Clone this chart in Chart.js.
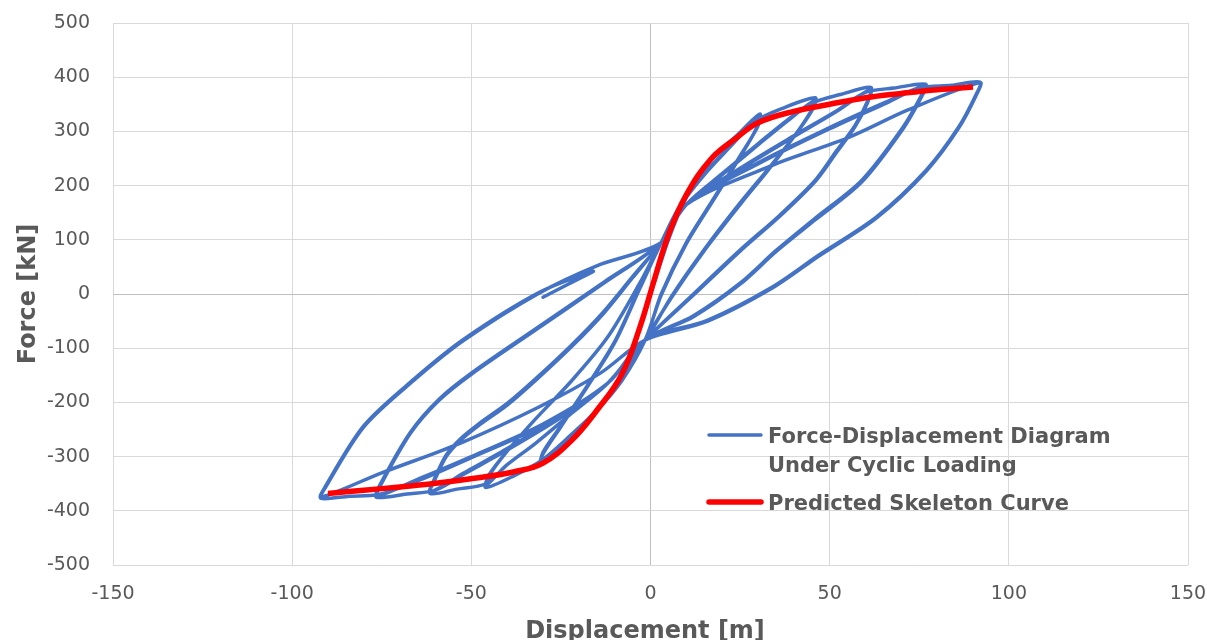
<!DOCTYPE html>
<html>
<head>
<meta charset="utf-8">
<script src="https://cdn.jsdelivr.net/npm/chart.js@4.4.1/dist/chart.umd.min.js"></script>
<style>
  html, body { margin: 0; padding: 0; background: #fff; }
  #wrap { width: 1207px; height: 640px; }
</style>
</head>
<body>
<div id="wrap"><canvas id="chart" width="1207" height="640"></canvas></div>
<script>
// Axis ticks
const xTicks = [-150, -100, -50, 0, 50, 100, 150];
const yTicks = [-500, -400, -300, -200, -100, 0, 100, 200, 300, 400, 500];

// Measured hysteresis path, in loading order (one row per branch)
const cyclicDisp = [
  0, 5, 10, 17, 24, 30.5,
  30, 25, 18, 10, 3, -1.5,
  -8, -15, -22, -30.8,
  -30, -25, -18, -10, -3, 3,
  8, 15, 22, 30,
  29.5, 25, 18, 10, 3, -1.5,
  -8, -15, -23, -30.5,
  -30, -25, -18, -10, -3, 3,
  8, 15, 22, 29, 37, 46,
  45, 40, 33, 25, 15, 6, -1.5,
  -8, -15, -23, -30, -38, -46,
  -45, -40, -32, -22, -12, -3, 3,
  10, 20, 30, 38, 46,
  45, 40, 33, 25, 15, 6, -1.5,
  -12, -22, -32, -40, -46,
  -45, -40, -32, -22, -12, -3, 3,
  10, 20, 30, 38, 45, 53, 61.5,
  60.5, 57, 52, 46, 36, 25, 12, -1.5,
  -12, -22, -32, -40, -46, -54, -61.5,
  -60, -57, -53, -48, -40, -32, -22, -13, -5, 3,
  10, 25, 40, 52, 61.5,
  60.5, 57, 52, 46, 36, 25, 12, -1.5,
  -12, -25, -40, -52, -61.5,
  -60, -57, -53, -48, -40, -32, -22, -13, -5, 3,
  10, 25, 40, 52, 60, 68, 76.8,
  75.5, 70.5, 59, 46, 35, 25, 12, -1.5,
  -12, -25, -40, -52, -60, -68, -76.5,
  -75.5, -67, -59, -50, -32, -13, 3,
  10, 30, 50, 65, 76.8,
  75.5, 70.5, 59, 46, 35, 25, 12, -1.5,
  -12, -30, -50, -65, -76.5,
  -75.5, -67, -59, -50, -32, -13, 3,
  10, 30, 50, 65, 75, 84, 92,
  91, 86, 77, 63, 47, 34, 16, -1.5,
  -12, -30, -50, -65, -76, -84, -92,
  -91, -80, -66, -52, -31, -15, 3,
  10, 35, 55, 72, 92,
  91, 86, 77, 63, 47, 34, 16, -1.5,
  -14, -31, -53, -75, -92,
  -91, -80, -66, -52, -31, -16,
  -23, -30
];
const cyclicForce = [
  0, 100, 178, 248, 292, 332,
  310, 255, 180, 95, 0, -85,
  -150, -215, -268, -315,
  -295, -245, -175, -90, 10, 95,
  160, 220, 270, 325,
  305, 253, 178, 93, -2, -85,
  -160, -215, -265, -310,
  -292, -243, -173, -88, 12, 95,
  160, 222, 272, 318, 343, 362,
  340, 290, 230, 165, 80, -5, -85,
  -160, -215, -265, -305, -335, -357,
  -335, -290, -230, -160, -80, 20, 95,
  165, 220, 275, 318, 358,
  338, 290, 232, 168, 82, -3, -85,
  -165, -220, -275, -315, -354,
  -333, -290, -230, -160, -80, 20, 95,
  165, 222, 277, 320, 352, 368, 381,
  355, 310, 265, 210, 145, 81, 0, -85,
  -165, -220, -275, -315, -350, -360, -368,
  -340, -300, -270, -243, -205, -159, -97, -35, 30, 95,
  165, 230, 290, 337, 378,
  352, 308, 262, 208, 143, 79, -2, -85,
  -165, -225, -285, -330, -365,
  -337, -297, -267, -240, -202, -156, -94, -32, 32, 95,
  165, 232, 292, 338, 372, 380, 387,
  365, 308, 210, 140, 80, 20, -40, -85,
  -165, -228, -288, -332, -362, -369, -375,
  -355, -257, -196, -148, -66, 20, 95,
  165, 240, 305, 350, 385,
  362, 305, 207, 137, 78, 18, -42, -85,
  -165, -240, -300, -342, -373,
  -352, -255, -194, -146, -64, 22, 95,
  165, 242, 307, 352, 380, 385, 391,
  370, 308, 229, 142, 72, 13, -48, -85,
  -165, -242, -302, -345, -370, -373, -377,
  -360, -245, -159, -85, 2, 52, 95,
  165, 240, 288, 340, 390,
  368, 306, 227, 140, 70, 11, -50, -85,
  -146, -208, -275, -330, -375,
  -358, -243, -157, -83, 3, 42,
  18, -6
];

// Predicted backbone
const skeletonDisp = [-90, -80, -70, -60, -48, -38, -30, -22, -15, -8, -3, 1, 5, 10, 17, 24, 30, 40, 50, 60, 70, 80, 90];
const skeletonForce = [-368, -362, -356, -349, -339, -328, -312, -270, -215, -148, -62, 25, 109, 183, 250, 288, 316, 337, 350, 362, 370, 377, 382];

const seriesNames = ['Force-Displacement Diagram', 'Predicted Skeleton Curve'];
const blue = '#4472C4';
const red = '#FF0000';
const textColor = '#595959';

const toPoints = (xs, ys) => xs.map((x, i) => ({ x: x, y: ys[i] }));

// axis titles and the in-plot legend
const chartText = {
  id: 'chartText',
  afterDraw(chart) {
    const ctx = chart.ctx;
    ctx.save();
    ctx.fillStyle = textColor;
    ctx.font = 'bold 24px "DejaVu Sans"';
    ctx.textAlign = 'center';
    ctx.textBaseline = 'alphabetic';
    ctx.fillText('Displacement [m]', 645, 638);
    ctx.save();
    ctx.translate(35, 294);
    ctx.rotate(-Math.PI / 2);
    ctx.fillText('Force [kN]', 0, 0);
    ctx.restore();

    ctx.lineCap = 'round';
    ctx.strokeStyle = blue;
    ctx.lineWidth = 3.5;
    ctx.beginPath(); ctx.moveTo(709, 435); ctx.lineTo(761, 435); ctx.stroke();
    ctx.strokeStyle = red;
    ctx.lineWidth = 5.5;
    ctx.beginPath(); ctx.moveTo(709, 502); ctx.lineTo(761, 502); ctx.stroke();

    ctx.font = 'bold 21px "DejaVu Sans"';
    ctx.textAlign = 'left';
    ctx.fillText(seriesNames[0], 768, 443);
    ctx.fillText('Under Cyclic Loading', 768, 472);
    ctx.fillText(seriesNames[1], 768, 510);
    ctx.restore();
  }
};

const gridColor = c => (c.tick && c.tick.value === 0) ? '#BFBFBF' : '#D9D9D9';

new Chart(document.getElementById('chart'), {
  type: 'scatter',
  data: {
    datasets: [
      {
        label: seriesNames[1],
        data: toPoints(skeletonDisp, skeletonForce),
        showLine: true,
        borderColor: red,
        borderWidth: 5.5,
        pointRadius: 0,
        tension: 0.4,
        order: 0
      },
      {
        label: seriesNames[0],
        data: toPoints(cyclicDisp, cyclicForce),
        showLine: true,
        borderColor: blue,
        borderWidth: 3.5,
        pointRadius: 0,
        tension: 0.3,
        borderJoinStyle: 'round',
        borderCapStyle: 'round',
        order: 1
      }
    ]
  },
  options: {
    responsive: false,
    animation: false,
    layout: { padding: { left: 0, right: 19, top: 23, bottom: 0 } },
    plugins: { legend: { display: false }, tooltip: { enabled: false } },
    scales: {
      x: {
        type: 'linear',
        min: -150,
        max: 150,
        afterBuildTicks: s => { s.ticks = xTicks.map(v => ({ value: v })); },
        afterFit: s => {
          s.height = 75;
          s.paddingLeft = 0;
          s.paddingRight = 0;
        },
        border: { display: false },
        grid: { color: gridColor, lineWidth: 1, drawTicks: false },
        ticks: { color: textColor, font: { family: 'DejaVu Sans', size: 19 }, padding: 18, maxRotation: 0 }
      },
      y: {
        type: 'linear',
        min: -500,
        max: 500,
        afterBuildTicks: s => { s.ticks = yTicks.map(v => ({ value: v })); },
        afterFit: s => {
          s.width = 113;
          s.paddingTop = 0;
          s.paddingBottom = 0;
        },
        border: { display: false },
        grid: { color: gridColor, lineWidth: 1, drawTicks: false },
        ticks: { color: textColor, font: { family: 'DejaVu Sans', size: 19 }, padding: 23 }
      }
    }
  },
  plugins: [chartText]
});
</script>
</body>
</html>
